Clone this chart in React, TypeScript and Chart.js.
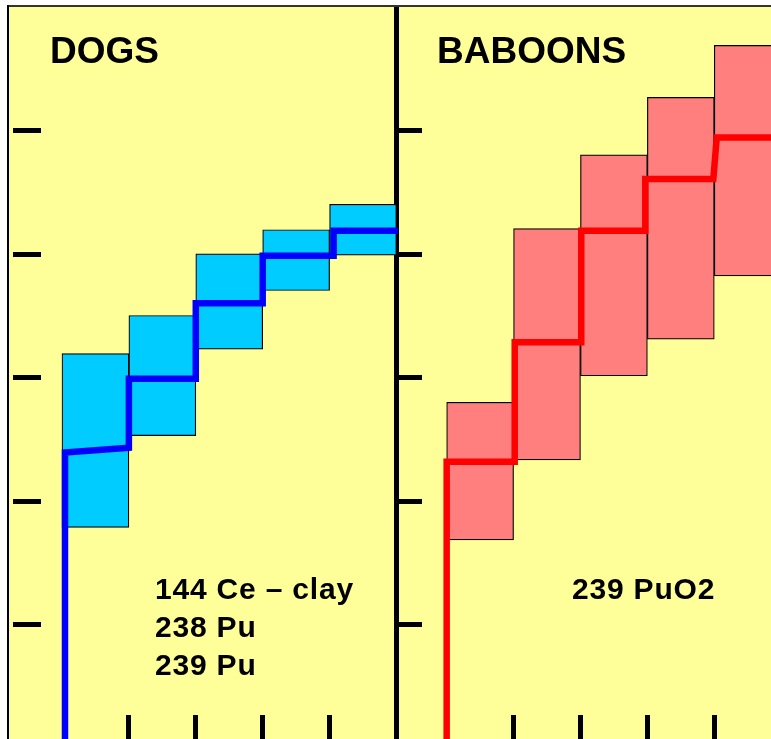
import React, { useEffect, useRef } from "react";
import { Chart, registerables } from "chart.js";

Chart.register(...registerables);

// x unit = one time bin, y unit = one tick interval
const dogBinCenters = [0.5, 1.5, 2.5, 3.5, 4.5];
const dogBoxLow = [1.788, 2.531, 3.231, 3.705, 3.992];
const dogBoxHigh = [3.195, 3.503, 4.002, 4.197, 4.403];

const baboonBinCenters = [6.25, 7.25, 8.25, 9.25, 10.25];
const baboonBoxLow = [1.687, 2.334, 3.015, 3.312, 3.824];
const baboonBoxHigh = [2.8, 4.207, 4.804, 5.268, 5.689];

const dogLineX = [0.045, 0.045, 1, 1, 2, 2, 3, 3, 4.06, 4.06, 5.02];
const dogLineY = [0.0, 2.394, 2.432, 2.99, 2.99, 3.602, 3.602, 3.986, 3.986, 4.189, 4.189];

const baboonLineX = [5.75, 5.75, 6.767, 6.767, 7.762, 7.762, 8.719, 8.719, 9.736, 9.787, 10.9];
const baboonLineY = [0.0, 2.32, 2.32, 3.286, 3.286, 4.189, 4.189, 4.607, 4.607, 4.944, 4.944];

const yTickValues = [1, 2, 3, 4, 5];
const xTickValues = [1, 2, 3, 4, 6.75, 7.75, 8.75, 9.75];
const panelDividerX = 5;
const leftTickX = -0.732;

const dogLabels = ["144 Ce \u2013 clay", "238 Pu", "239 Pu"];
const baboonLabels = ["239 PuO2"];

const X_MIN = -0.792;
const X_MAX = 10.598;
const Y_MIN = 0.075;
const Y_MAX = 6.0;

const setTicks = (vals: number[]) => (scale: any) => {
  scale.ticks = vals.map((v) => ({ value: v }));
};

export default function App() {
  const ref = useRef<HTMLCanvasElement>(null);

  useEffect(() => {
    const canvas = ref.current;
    if (!canvas) return;
    const boxCommon = {
      type: "bar" as const,
      borderColor: "#000",
      borderWidth: 1.2,
      borderSkipped: false,
      grouped: false,
      barPercentage: 1,
      categoryPercentage: 1,
      order: 2,
    };
    const lineCommon = {
      type: "line" as const,
      borderWidth: 6.5,
      pointRadius: 0,
      tension: 0,
      fill: false,
      borderJoinStyle: "miter",
      borderCapStyle: "butt",
      order: 0,
    };
    const chart = new Chart(canvas, {
      type: "bar",
      data: {
        datasets: [
          {
            ...boxCommon,
            label: "Dogs range",
            data: dogBinCenters.map((x, i) => ({ x, y: [dogBoxLow[i], dogBoxHigh[i]] })) as any,
            backgroundColor: "#00CCFF",
          },
          {
            ...boxCommon,
            label: "Baboons range",
            data: baboonBinCenters.map((x, i) => ({ x, y: [baboonBoxLow[i], baboonBoxHigh[i]] })) as any,
            backgroundColor: "#FF7F7F",
          },
          {
            ...lineCommon,
            label: "Dogs",
            data: dogLineX.map((x, i) => ({ x, y: dogLineY[i] })),
            borderColor: "#0000FF",
          } as any,
          {
            ...lineCommon,
            label: "Baboons",
            data: baboonLineX.map((x, i) => ({ x, y: baboonLineY[i] })),
            borderColor: "#FF0000",
          } as any,
        ],
      },
      options: {
        animation: false,
        responsive: false,
        events: [],
        layout: { padding: 0 },
        plugins: { legend: { display: false }, tooltip: { enabled: false } },
        scales: {
          x: {
            type: "linear",
            position: "bottom",
            min: X_MIN,
            max: X_MAX,
            offset: false,
            display: true,
            afterBuildTicks: setTicks(xTickValues),
            ticks: { display: false },
            border: { display: false },
            grid: {
              offset: false,
              drawOnChartArea: false,
              drawTicks: true,
              tickLength: -24,
              color: "#000",
              lineWidth: 5,
            },
          },
          y: {
            type: "linear",
            min: Y_MIN,
            max: Y_MAX,
            display: false,
            afterBuildTicks: setTicks(yTickValues),
          },
          yLeft: {
            type: "linear",
            axis: "y",
            min: Y_MIN,
            max: Y_MAX,
            position: { x: leftTickX } as any,
            afterBuildTicks: setTicks(yTickValues),
            ticks: { display: false },
            border: { display: false },
            grid: {
              offset: false,
              drawOnChartArea: false,
              drawTicks: true,
              tickLength: -28,
              color: "#000",
              lineWidth: 5,
            },
          },
          yMid: {
            type: "linear",
            axis: "y",
            min: Y_MIN,
            max: Y_MAX,
            position: { x: panelDividerX } as any,
            afterBuildTicks: setTicks(yTickValues),
            ticks: { display: false },
            border: { display: true, color: "#000", width: 5 },
            grid: {
              offset: false,
              drawOnChartArea: false,
              drawTicks: true,
              tickLength: -28,
              color: "#000",
              lineWidth: 5,
            },
          },
        } as any,
      },
    });
    return () => chart.destroy();
  }, []);

  const font = '"Liberation Sans", Arial, Helvetica, sans-serif';
  const titleStyle: React.CSSProperties = {
    position: "absolute",
    fontFamily: font,
    fontWeight: "bold",
    fontSize: 37,
    lineHeight: 0,
    whiteSpace: "nowrap",
    color: "#000",
  };
  const labelStyle: React.CSSProperties = {
    position: "absolute",
    fontFamily: font,
    fontWeight: "bold",
    fontSize: 30,
    letterSpacing: 0.8,
    lineHeight: 0,
    whiteSpace: "nowrap",
    color: "#000",
  };

  return (
    <div
      style={{
        position: "fixed",
        left: 0,
        top: 0,
        width: 771,
        height: 739,
        overflow: "hidden",
        background: "#fff",
      }}
    >
      <div style={{ position: "absolute", left: 7, top: 5, right: 0, height: 2, background: "#333" }} />
      <div style={{ position: "absolute", left: 7, top: 5, width: 2, bottom: 0, background: "#000" }} />
      <canvas
        ref={ref}
        width={762}
        height={732}
        style={{ position: "absolute", left: 9, top: 7, width: 762, height: 732, background: "#FFFF99" }}
      />
      <div style={{ ...titleStyle, left: 50, top: 50.5 }}>DOGS</div>
      <div style={{ ...titleStyle, left: 437, top: 50.5 }}>BABOONS</div>
      {dogLabels.map((t, i) => (
        <div key={t} style={{ ...labelStyle, left: 155, top: 588.6 + i * 38.3 }}>
          {t}
        </div>
      ))}
      {baboonLabels.map((t, i) => (
        <div key={t} style={{ ...labelStyle, left: 572, top: 588.6 + i * 38.3 }}>
          {t}
        </div>
      ))}
    </div>
  );
}
